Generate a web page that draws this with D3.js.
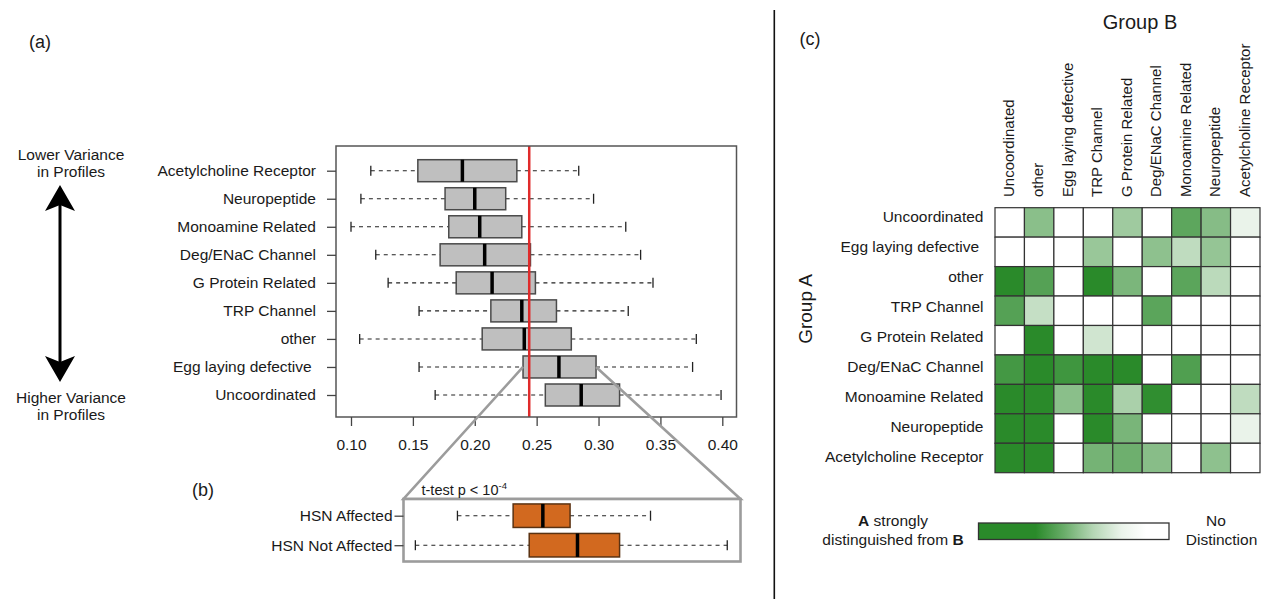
<!DOCTYPE html>
<html>
<head>
<meta charset="utf-8">
<script src="https://cdn.jsdelivr.net/npm/d3@7"></script>
<style>
  html, body { margin: 0; padding: 0; background: #fff; }
  svg { display: block; font-family: "Liberation Sans", Arial, Helvetica, sans-serif; }
  text { fill: #1a1a1a; }
  .pre { white-space: pre; }
</style>
</head>
<body>
<svg id="fig" width="1270" height="599"></svg>
<script>
// ---------- (a) distance distributions per gene class ----------
const boxCategories = ["Acetylcholine Receptor", "Neuropeptide", "Monoamine Related", "Deg/ENaC Channel",
  "G Protein Related", "TRP Channel", "other", "Egg laying defective ", "Uncoordinated"];
const whiskerLow  = [0.116, 0.108, 0.100, 0.120, 0.130, 0.155, 0.107, 0.155, 0.168];
const quartile1   = [0.154, 0.176, 0.179, 0.172, 0.185, 0.213, 0.206, 0.239, 0.257];
const medians     = [0.190, 0.200, 0.204, 0.208, 0.214, 0.238, 0.240, 0.268, 0.286];
const quartile3   = [0.234, 0.225, 0.238, 0.245, 0.249, 0.266, 0.278, 0.298, 0.317];
const whiskerHigh = [0.284, 0.296, 0.322, 0.334, 0.344, 0.324, 0.379, 0.376, 0.399];
const xTicks = [0.10, 0.15, 0.20, 0.25, 0.30, 0.35, 0.40];
const referenceValue = 0.244;
const zoomedCategory = "Egg laying defective ";

// ---------- (b) HSN split ----------
const hsnGroups = ["HSN Affected", "HSN Not Affected"];
const hsnLow  = [0.186, 0.152];
const hsnQ1   = [0.231, 0.244];
const hsnMed  = [0.255, 0.283];
const hsnQ3   = [0.277, 0.317];
const hsnHigh = [0.342, 0.404];

// ---------- (c) pairwise distinction matrix (1 = strongly distinguished) ----------
const groupA = ["Uncoordinated", "Egg laying defective ", "other", "TRP Channel", "G Protein Related",
  "Deg/ENaC Channel", "Monoamine Related", "Neuropeptide", "Acetylcholine Receptor"];
const groupB = ["Uncoordinated", "other", "Egg laying defective", "TRP Channel", "G Protein Related",
  "Deg/ENaC Channel", "Monoamine Related", "Neuropeptide", "Acetylcholine Receptor"];
const rowUncoordinated = [0, 0.55, 0, 0, 0.45, 0, 0.76, 0.57, 0.10];
const rowEggLaying     = [0, 0, 0, 0.48, 0, 0.53, 0.30, 0.50, 0];
const rowOther         = [1, 0.80, 0, 1, 0.62, 0, 0.77, 0.32, 0];
const rowTRP           = [0.80, 0.27, 0, 0, 0, 0.77, 0, 0, 0];
const rowGProtein      = [0, 1, 0, 0.22, 0, 0, 0, 0, 0];
const rowDegENaC       = [0.88, 1, 0.90, 1, 1, 0, 0.82, 0, 0];
const rowMonoamine     = [1, 1, 0.55, 1, 0.40, 0.97, 0, 0, 0.30];
const rowNeuropeptide  = [1, 1, 0, 1, 0.63, 0, 0, 0, 0.10];
const rowAcetylcholine = [1, 1, 0, 0.65, 0.68, 0.56, 0, 0.53, 0];

const matrix = [rowUncoordinated, rowEggLaying, rowOther, rowTRP, rowGProtein,
  rowDegENaC, rowMonoamine, rowNeuropeptide, rowAcetylcholine];

const svg = d3.select("#fig");
const FS = 15.5;

// ===================== panel (a) =====================
const x = d3.scaleLinear().domain([0.10, 0.40]).range([351, 722.3]);
const y = d3.scalePoint().domain(boxCategories).range([170.7, 395]);
const frameA = { x0: 336, x1: 736.5, y0: 146, y1: 417 };
const boxH = 22;

const gA = svg.append("g");
const boxes = boxCategories.map((c, i) => ({
  cat: c, lo: whiskerLow[i], q1: quartile1[i], med: medians[i], q3: quartile3[i], hi: whiskerHigh[i]
}));

function drawBoxes(g, data, xs, ys, h, fill, stroke) {
  const row = g.selectAll("g.box").data(data).join("g").attr("class", "box");
  row.append("line")
    .attr("x1", d => xs(d.lo)).attr("x2", d => xs(d.q1))
    .attr("y1", d => ys(d.cat)).attr("y2", d => ys(d.cat))
    .attr("stroke", "#222").attr("stroke-width", 1.1).attr("stroke-dasharray", "4,4");
  row.append("line")
    .attr("x1", d => xs(d.q3)).attr("x2", d => xs(d.hi))
    .attr("y1", d => ys(d.cat)).attr("y2", d => ys(d.cat))
    .attr("stroke", "#222").attr("stroke-width", 1.1).attr("stroke-dasharray", "4,4");
  row.append("line")
    .attr("x1", d => xs(d.lo)).attr("x2", d => xs(d.lo))
    .attr("y1", d => ys(d.cat) - 5).attr("y2", d => ys(d.cat) + 5)
    .attr("stroke", "#222").attr("stroke-width", 1.3);
  row.append("line")
    .attr("x1", d => xs(d.hi)).attr("x2", d => xs(d.hi))
    .attr("y1", d => ys(d.cat) - 5).attr("y2", d => ys(d.cat) + 5)
    .attr("stroke", "#222").attr("stroke-width", 1.3);
  row.append("rect")
    .attr("x", d => xs(d.q1)).attr("width", d => xs(d.q3) - xs(d.q1))
    .attr("y", d => ys(d.cat) - h / 2).attr("height", h)
    .attr("fill", fill).attr("stroke", stroke).attr("stroke-width", 1.5);
  row.append("line")
    .attr("x1", d => xs(d.med)).attr("x2", d => xs(d.med))
    .attr("y1", d => ys(d.cat) - h / 2).attr("y2", d => ys(d.cat) + h / 2)
    .attr("stroke", "#000").attr("stroke-width", 3.5);
}

drawBoxes(gA, boxes, x, y, boxH, "#bfbfbf", "#4a4a4a");

// reference line
gA.append("line")
  .attr("x1", x(referenceValue)).attr("x2", x(referenceValue))
  .attr("y1", frameA.y0).attr("y2", frameA.y1)
  .attr("stroke", "#e02b2b").attr("stroke-width", 2.5);

// frame
gA.append("rect")
  .attr("x", frameA.x0).attr("y", frameA.y0)
  .attr("width", frameA.x1 - frameA.x0).attr("height", frameA.y1 - frameA.y0)
  .attr("fill", "none").attr("stroke", "#555").attr("stroke-width", 1.5);

// x axis
const xAxis = d3.axisBottom(x).tickValues(xTicks).tickFormat(d3.format(".2f"))
  .tickSize(9).tickPadding(13);
const gx = gA.append("g").attr("transform", `translate(0,${frameA.y1})`).call(xAxis);
gx.select(".domain").remove();
gx.selectAll(".tick line").attr("stroke", "#444").attr("stroke-width", 1.3);
gx.selectAll(".tick text").attr("font-size", FS).attr("fill", "#1a1a1a")
  .attr("font-family", "Liberation Sans, Arial, sans-serif");

// y axis
const yAxis = d3.axisLeft(y).tickSize(9).tickPadding(11);
const gy = gA.append("g").attr("transform", `translate(${frameA.x0},0)`).call(yAxis);
gy.select(".domain").remove();
gy.selectAll(".tick line").attr("stroke", "#444").attr("stroke-width", 1.3);
gy.selectAll(".tick text").attr("font-size", FS).attr("fill", "#1a1a1a").attr("class", "pre")
  .attr("font-family", "Liberation Sans, Arial, sans-serif");

// ===================== panel (b) =====================
const frameB = { x0: 403.5, x1: 740.5, y0: 499, y1: 561.5 };
const yB = d3.scalePoint().domain(hsnGroups).range([515.7, 545.2]);
const hsnBoxes = hsnGroups.map((c, i) => ({
  cat: c, lo: hsnLow[i], q1: hsnQ1[i], med: hsnMed[i], q3: hsnQ3[i], hi: hsnHigh[i]
}));

// zoom connector from the highlighted box down to the inset
const zi = boxCategories.indexOf(zoomedCategory);
const zy = y(zoomedCategory);
svg.append("path")
  .attr("d", `M${x(quartile1[zi])},${zy} L${frameB.x0},${frameB.y0} L${frameB.x1},${frameB.y0} L${x(quartile3[zi])},${zy}`)
  .attr("fill", "none").attr("stroke", "#9c9c9c").attr("stroke-width", 2.6).attr("stroke-linejoin", "miter");
svg.append("rect")
  .attr("x", frameB.x0).attr("y", frameB.y0)
  .attr("width", frameB.x1 - frameB.x0).attr("height", frameB.y1 - frameB.y0)
  .attr("fill", "#fff").attr("stroke", "#9c9c9c").attr("stroke-width", 2.6);

const gB = svg.append("g");
drawBoxes(gB, hsnBoxes, x, yB, 23.5, "#d2691f", "#5a3212");
const gyB = gB.append("g").attr("transform", `translate(${frameB.x0},0)`)
  .call(d3.axisLeft(yB).tickSize(9).tickPadding(2));
gyB.select(".domain").remove();
gyB.selectAll(".tick line").attr("stroke", "#444").attr("stroke-width", 1.3);
gyB.selectAll(".tick text").attr("font-size", FS).attr("fill", "#1a1a1a")
  .attr("font-family", "Liberation Sans, Arial, sans-serif");

const tt = svg.append("text").attr("x", 421.5).attr("y", 495).attr("font-size", 14.5);
tt.append("tspan").text("t-test p < 10");
tt.append("tspan").attr("dy", -6).attr("font-size", 9.5).text("-4");

// ===================== variance arrow =====================
const gArrow = svg.append("g");
gArrow.append("line").attr("x1", 60).attr("x2", 60).attr("y1", 204).attr("y2", 363)
  .attr("stroke", "#000").attr("stroke-width", 3);
gArrow.append("path").attr("d", "M60,185 L45,211 L60,205 L75,211 Z").attr("fill", "#000");
gArrow.append("path").attr("d", "M60,382 L45,356 L60,362 L75,356 Z").attr("fill", "#000");
[["Lower Variance", 155], ["in Profiles", 172], ["Higher Variance", 398], ["in Profiles", 415]]
  .forEach(([t, yy]) => {
    gArrow.append("text").attr("x", 71).attr("y", yy).attr("dy", "0.35em")
      .attr("text-anchor", "middle").attr("font-size", FS).text(t);
  });

// panel letters
[["(a)", 40, 42], ["(b)", 203, 490], ["(c)", 810, 39]].forEach(([t, px, py]) => {
  svg.append("text").attr("x", px).attr("y", py).attr("dy", "0.35em")
    .attr("text-anchor", "middle").attr("font-size", 18).text(t);
});

// divider
svg.append("line").attr("x1", 774.3).attr("x2", 774.3).attr("y1", 10).attr("y2", 599)
  .attr("stroke", "#111").attr("stroke-width", 1.6);

// ===================== panel (c) =====================
const green = d3.scaleLinear().domain([0, 1]).range(["#ffffff", "#2a8a2a"]);
const cx = d3.scaleBand().domain(groupB).range([995, 1260]);
const cy = d3.scaleBand().domain(groupA).range([207.7, 472.7]);
const labelY = d3.scalePoint().domain(groupA).range([216.7, 456.7]);

const cells = [];
groupA.forEach((a, i) => groupB.forEach((b, j) => cells.push({ a, b, v: matrix[i][j] })));
svg.append("g").selectAll("rect").data(cells).join("rect")
  .attr("x", d => cx(d.b)).attr("y", d => cy(d.a))
  .attr("width", cx.bandwidth()).attr("height", cy.bandwidth())
  .attr("fill", d => green(d.v)).attr("stroke", "#333").attr("stroke-width", 1.2);

svg.append("g").selectAll("text").data(groupA).join("text")
  .attr("class", "pre")
  .attr("x", 983.5).attr("y", d => labelY(d)).attr("dy", "0.35em")
  .attr("text-anchor", "end").attr("font-size", FS).text(d => d);

svg.append("g").selectAll("text").data(groupB).join("text")
  .attr("transform", d => `translate(${cx(d) + cx.bandwidth() / 2 - 1},197) rotate(-90)`)
  .attr("dy", "0.35em").attr("text-anchor", "start").attr("font-size", 15).text(d => d);

svg.append("text").attr("x", 1140).attr("y", 22).attr("dy", "0.35em")
  .attr("text-anchor", "middle").attr("font-size", 20).text("Group B");
svg.append("text").attr("transform", "translate(805,309) rotate(-90)").attr("dy", "0.35em")
  .attr("text-anchor", "middle").attr("font-size", 19).text("Group A");

// colour key
const defs = svg.append("defs");
const grad = defs.append("linearGradient").attr("id", "distinctionKey");
[[0, 1], [0.3, 1], [0.45, 0.7], [0.6, 0.35], [0.75, 0.1], [0.88, 0], [1, 0]].forEach(([o, v]) => {
  grad.append("stop").attr("offset", o).attr("stop-color", green(v));
});
svg.append("rect").attr("x", 978.5).attr("y", 523).attr("width", 190.5).attr("height", 16.5)
  .attr("fill", "url(#distinctionKey)").attr("stroke", "#333").attr("stroke-width", 1.3);

const k1 = svg.append("text").attr("x", 893).attr("y", 521).attr("dy", "0.35em")
  .attr("text-anchor", "middle").attr("font-size", FS);
k1.append("tspan").attr("font-weight", "bold").text("A");
k1.append("tspan").text(" strongly");
const k2 = svg.append("text").attr("x", 893).attr("y", 540).attr("dy", "0.35em")
  .attr("text-anchor", "middle").attr("font-size", FS);
k2.append("tspan").text("distinguished from ");
k2.append("tspan").attr("font-weight", "bold").text("B");
svg.append("text").attr("x", 1216).attr("y", 521).attr("dy", "0.35em")
  .attr("text-anchor", "middle").attr("font-size", FS).text("No");
svg.append("text").attr("x", 1221.5).attr("y", 540).attr("dy", "0.35em")
  .attr("text-anchor", "middle").attr("font-size", FS).text("Distinction");
</script>
</body>
</html>
